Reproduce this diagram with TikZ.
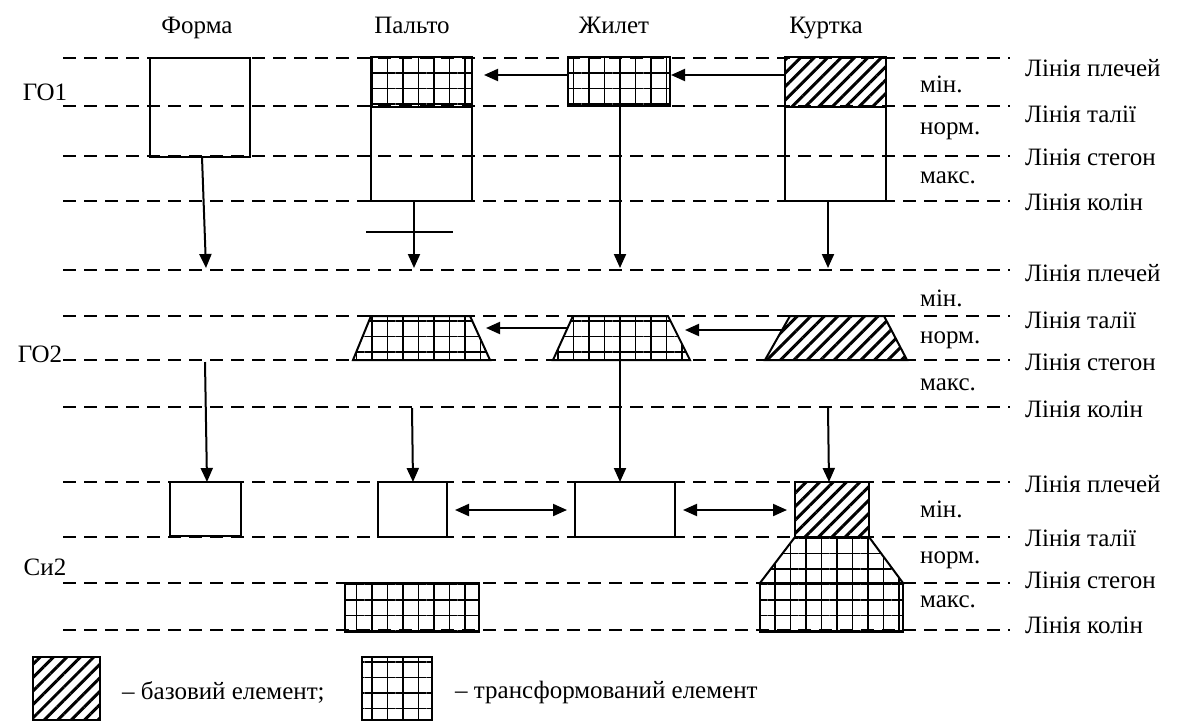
\documentclass[tikz,border=0pt]{standalone}
\usepackage{fontspec}
\setmainfont{Liberation Serif}
\usetikzlibrary{patterns.meta,arrows.meta}
\begin{document}
\begin{tikzpicture}[x=1pt,y=-1pt,
  lbl/.style={font=\fontsize{25}{28}\selectfont, inner sep=0pt},
  guide/.style={line width=2.5pt, dash pattern=on 13pt off 8pt},
  box/.style={draw, line width=2pt, inner sep=0pt, outer sep=0pt, anchor=north west},
  shapeline/.style={draw, line width=2pt, line join=miter},
  gridfill/.style={pattern={Hatch[distance=15.5pt, line width=1.4pt]}},
  hatchfill/.style={pattern={Lines[angle=45, distance=9.5pt, line width=3pt]}},
  arr/.style={line width=2pt, -{Triangle[length=14pt,width=12pt]}},
  darr/.style={line width=2pt, {Triangle[length=14pt,width=12pt]}-{Triangle[length=14pt,width=12pt]}},
]
\useasboundingbox (0,0) rectangle (1184,724);

% headers
\node[lbl, anchor=base] (hf) at (197,33) {Форма};
\node[lbl, anchor=base] (hp) at (412,33) {Пальто};
\node[lbl, anchor=base] (hz) at (614,33) {Жилет};
\node[lbl, anchor=base] (hk) at (826,33) {Куртка};

% row labels
\node[lbl] (r1) at (45,92) {ГО1};
\node[lbl] (r2) at (40,354) {ГО2};
\node[lbl] (r3) at (45,567) {Си2};

% guide lines
\foreach \yy in {58,106,156,201,270,316,360,407,482,537,583,630}
  \draw[guide] (63,\yy) -- (1010,\yy);

% right labels
\foreach \yy/\t in {68/Лінія плечей,114/Лінія талії,157/Лінія стегон,202/Лінія колін,
                    273/Лінія плечей,320/Лінія талії,362/Лінія стегон,409/Лінія колін,
                    484/Лінія плечей,538/Лінія талії,580/Лінія стегон,625/Лінія колін}
  \node[lbl, anchor=west] at (1025,\yy) {\t};
\foreach \yy/\t in {84/мін.,131/норм.,178/макс.,
                    298/мін.,340/норм.,385/макс.,
                    509/мін.,560/норм.,602/макс.}
  \node[lbl, anchor=west] at (920,\yy) {\t};

% ---------- ГО1 ----------
\node[box, minimum width=100pt, minimum height=99pt] (f1) at (150,58) {};
\node[box, gridfill, minimum width=101pt, minimum height=50pt] (p1t) at (371,57) {};
\node[box, minimum width=101pt, minimum height=94pt] (p1b) at (371,107) {};
\node[box, gridfill, minimum width=102pt, minimum height=49pt] (z1) at (568,57) {};
\node[box, hatchfill, minimum width=101pt, minimum height=50pt] (k1t) at (785,57) {};
\node[box, minimum width=101pt, minimum height=94pt] (k1b) at (785,107) {};

\coordinate (k1w) at (785,75);
\coordinate (z1e) at (671,75);
\coordinate (z1w) at (568,75);
\coordinate (p1e) at (484,75);
\draw[arr] (k1w) -- (z1e);
\draw[arr] (z1w) -- (p1e);

% ---------- ГО2 ----------
\coordinate (p2a) at (371,316); \coordinate (p2b) at (470,316);
\coordinate (p2c) at (490,360); \coordinate (p2d) at (353,360);
\coordinate (z2a) at (573,316); \coordinate (z2b) at (668,316);
\coordinate (z2c) at (690,360); \coordinate (z2d) at (553,360);
\coordinate (k2a) at (790,316); \coordinate (k2b) at (884,316);
\coordinate (k2c) at (907,360); \coordinate (k2d) at (765,360);
\path[shapeline, gridfill] (p2a) -- (p2b) -- (p2c) -- (p2d) -- cycle;
\path[shapeline, gridfill] (z2a) -- (z2b) -- (z2c) -- (z2d) -- cycle;
\path[shapeline, hatchfill] (k2a) -- (k2b) -- (k2c) -- (k2d) -- cycle;

% arrows ГО1 -> ГО2
\coordinate (f1out) at (202,157);
\coordinate (f2in) at (206,268);
\coordinate (p2in) at (414,268);
\coordinate (z2in) at (620,268);
\coordinate (k2in) at (828,268);
\draw[arr] (f1out) -- (f2in);
\draw[arr] (p1b.south -| p2in) -- (p2in);
\draw[arr] (z1.south -| z2in) -- (z2in);
\draw[arr] (k1b.south -| k2in) -- (k2in);
\coordinate (barl) at (366,232); \coordinate (barr) at (453,232);
\draw[line width=2pt] (barl) -- (barr);

\coordinate (k2w) at (782,330);
\coordinate (z2e) at (685,330);
\coordinate (z2w) at (568,328);
\coordinate (p2e) at (486,328);
\draw[arr] (k2w) -- (z2e);
\draw[arr] (z2w) -- (p2e);

% ---------- Си2 ----------
\node[box, minimum width=71pt, minimum height=54pt] (f3) at (170,482) {};
\node[box, minimum width=69pt, minimum height=55pt] (p3) at (378,482) {};
\node[box, minimum width=100pt, minimum height=55pt] (z3) at (575,482) {};
\node[box, hatchfill, minimum width=74pt, minimum height=55pt] (k3) at (795,482) {};
\node[box, gridfill, minimum width=134pt, minimum height=49pt] (p3g) at (345,583) {};
\coordinate (k3a) at (795,537); \coordinate (k3b) at (869,537);
\coordinate (k3c) at (903,583); \coordinate (k3d) at (760,583);
\path[shapeline, gridfill] (k3a) -- (k3b) -- (k3c) -- (k3d) -- cycle;
\node[box, gridfill, minimum width=143pt, minimum height=49pt] (k3g) at (760,583) {};

% arrows ГО2 -> Си2
\coordinate (f2out) at (205,362);
\coordinate (p2out) at (412,408);
\coordinate (k2out) at (828,408);
\coordinate (z2out) at (620,360);
\draw[arr] (f2out) -- (f3.north -| 207,0);
\draw[arr] (p2out) -- (p3.north -| 413,0);
\draw[arr] (z2out) -- (z3.north -| 620,0);
\draw[arr] (k2out) -- (k3.north -| 829,0);

\coordinate (p3e) at (455,510); \coordinate (z3w) at (567,510);
\coordinate (z3e) at (683,510); \coordinate (k3w) at (787,510);
\draw[darr] (p3e) -- (z3w);
\draw[darr] (z3e) -- (k3w);

% ---------- legend ----------
\node[box, hatchfill, minimum width=67pt, minimum height=63pt] (lh) at (33,657) {};
\node[lbl, anchor=west] (lht) at (122,692) {– базовий елемент;};
\node[box, gridfill, minimum width=70pt, minimum height=63pt] (lg) at (362,657) {};
\node[lbl, anchor=west] (lgt) at (455,692) {– трансформований елемент};
\end{tikzpicture}
\end{document}
